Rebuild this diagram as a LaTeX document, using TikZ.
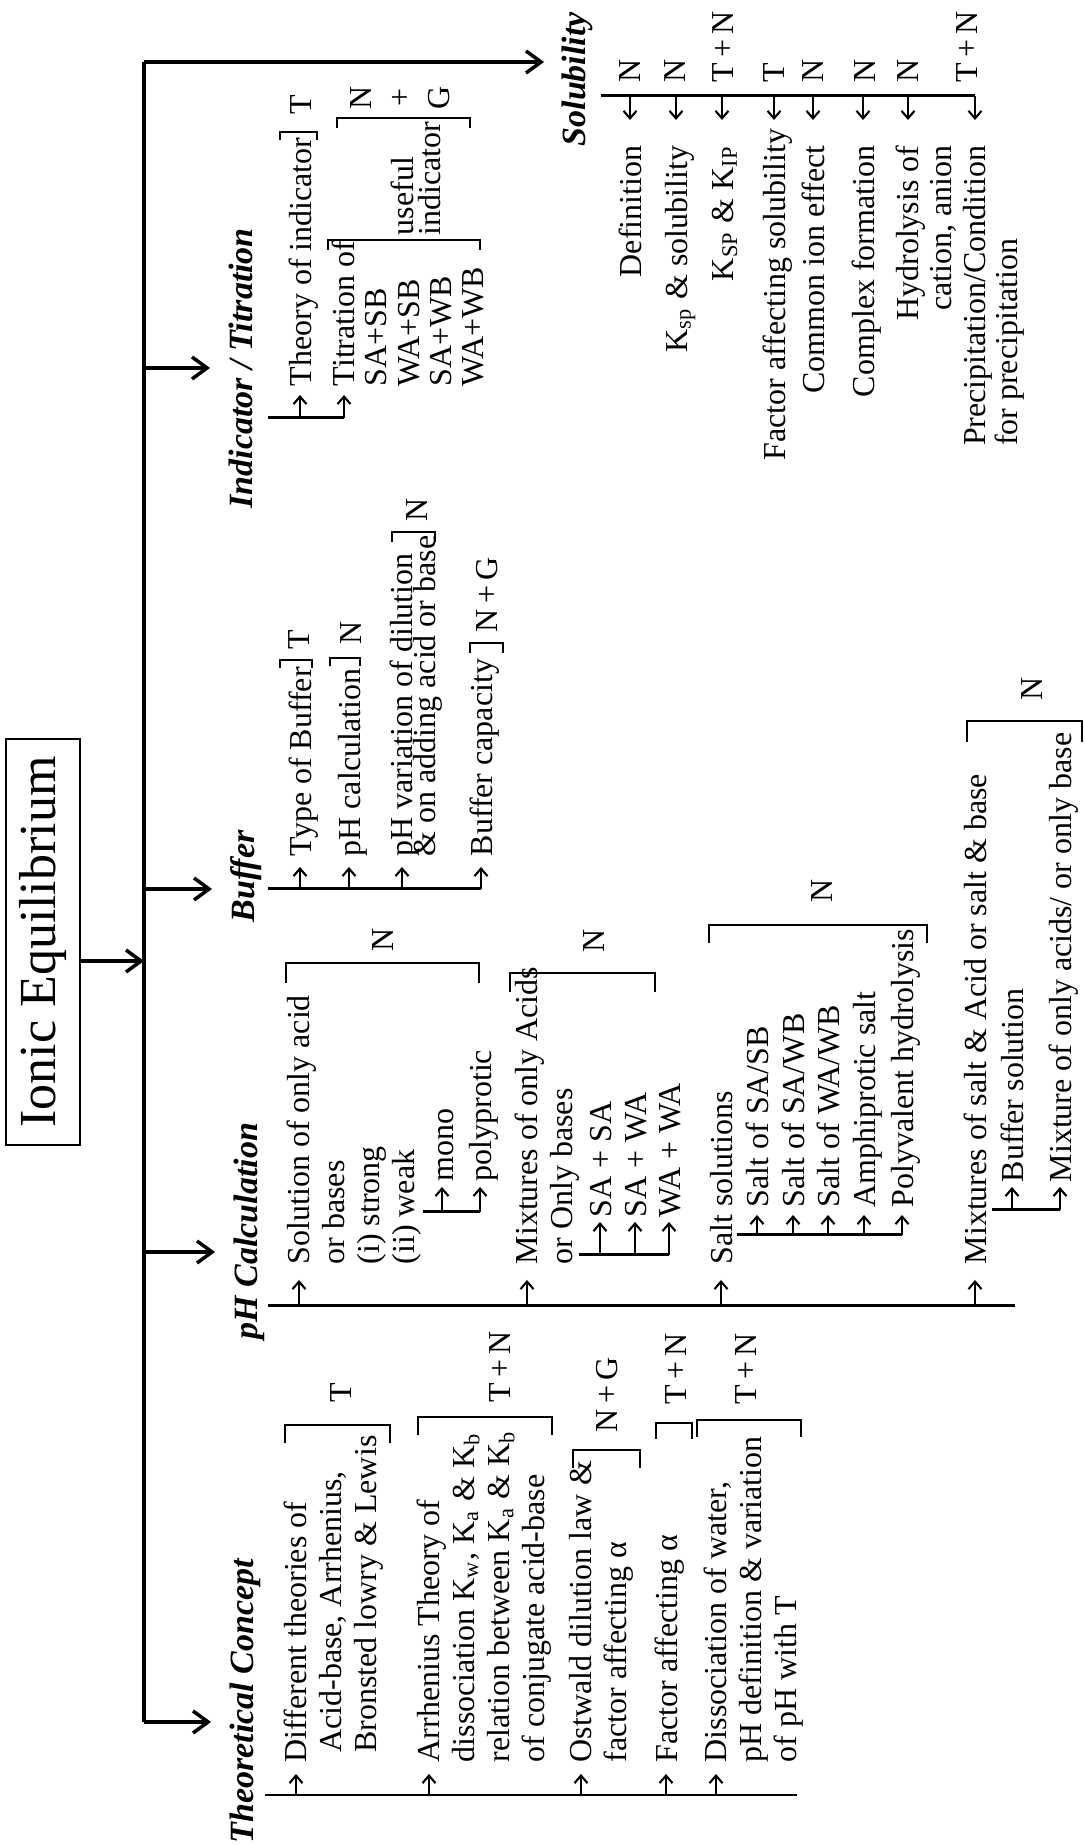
\documentclass[tikz,border=0pt]{standalone}
\usepackage{fontspec}
\setmainfont{Liberation Serif}
\usetikzlibrary{arrows.meta}
\newcommand{\itemfont}{\fontsize{9.1}{9.96}\selectfont}
\newcommand{\tightfont}{\fontsize{9.1}{9.18}\selectfont}
\newcommand{\headfont}{\fontsize{9.67}{11}\selectfont\bfseries\itshape}
\newcommand{\titlefont}{\fontsize{14.8}{16}\selectfont}
% closing bracket ] across the lines of a block: x from #1 to #2, at y = #3, ticks #4 long
\newcommand{\closebr}[4]{%
    \draw[brk] (#1, #3-#4) -- (#1, #3) -- (#2, #3) -- (#2, #3-#4);
}
% small arrow from a spine (#2) to the first line of an entry (#1 = its top corner), tip at #3
\newcommand{\entryarrow}[3]{%
    \draw[iarr] ([xshift=1.25mm]#1 |- #2) -- ([xshift=1.25mm]#1 |- #3);
}

\begin{document}
\begin{tikzpicture}[
    trunk/.style={line width=1pt},
    barr/.style={line width=1pt, -{Straight Barb[length=1.5mm, width=2.2mm]}},
    spine/.style={line width=0.85pt},
    iarr/.style={line width=0.6pt, -{Straight Barb[length=0.75mm, width=1.3mm]}},
    brk/.style={line width=0.8pt},
    head/.style={rotate=90, anchor=north west, inner sep=0pt, font=\headfont},
    entry/.style={rotate=90, anchor=north west, align=left, inner sep=0pt, font=\itemfont,
        execute at begin node={\rule{0pt}{2.3mm}}},
    rentry/.style={entry, anchor=north east, align=right},
    tight/.style={font=\tightfont},
    tag/.style={rotate=90, anchor=west, align=center, inner sep=0pt, font=\itemfont}
]
\useasboundingbox (0, 0) rectangle (10.84, 18.45);

% ---------------------------------------------------------------
%  Page is turned: every text runs upwards, columns go left to right
% ---------------------------------------------------------------

% ---- title and trunk ----
\node[draw, line width=0.8pt, rotate=90, minimum width=4.06cm, minimum height=0.74cm,
    inner sep=0pt, font=\titlefont] (title) at (0.43, 9.03) {Ionic Equilibrium};
\coordinate (tBot) at (1.44, 1.23);
\coordinate (tTop) at (1.44, 17.83);
\coordinate (tPH) at (1.44, 5.93);
\coordinate (tTitle) at (1.44, 8.84);
\coordinate (tBuf) at (1.44, 9.56);
\coordinate (tInd) at (1.44, 14.77);
\draw[trunk] (tBot) -- (tTop);
\draw[barr] (title.south |- tTitle) -- (tTitle);

\node[head] (hTheo) at (2.29, 0.01) {Theoretical Concept};
\node[head] (hPH) at (2.33, 5.05) {pH Calculation};
\node[head] (hBuf) at (2.30, 9.22) {Buffer};
\node[head] (hInd) at (2.28, 13.36) {Indicator / Titration};
\node[head] (hSol) at (5.61, 16.98) {Solubility};
\draw[barr, shorten >=1.8mm] (tBot) -- (tBot -| hTheo.north);
\draw[barr, shorten >=1.8mm] (tPH) -- (tPH -| hPH.north);
\draw[barr, shorten >=1.8mm] (tBuf) -- (tBuf -| hBuf.north);
\draw[barr, shorten >=1.8mm] (tInd) -- (tInd -| hInd.north);
\draw[barr, shorten >=1.7mm] (tTop) -- (tTop -| hSol.north);

% ---- Theoretical Concept ----
\coordinate (thS) at (2.65, 0.50);
\coordinate (thT) at (2.65, 0.71);
\draw[spine] (thS) -- (7.97, 0.50);
\node[entry] (th1) at (2.835, 0.82) {Different theories of\\
    \hspace*{0.3em}Acid-base, Arrhenius,\\\hspace*{0.3em}Bronsted lowry \& Lewis};
\node[entry] (th2) at (4.165, 0.82) {Arrhenius Theory of\\
    dissociation K\textsubscript{w}, K\textsubscript{a} \& K\textsubscript{b}\\
    relation between K\textsubscript{a} \& K\textsubscript{b}\\of conjugate acid-base};
\node[entry] (th3) at (5.685, 0.82) {Ostwald dilution law \&\\factor affecting α};
\node[entry] (th4) at (6.535, 0.82) {Factor affecting α};
\node[entry] (th5) at (7.035, 0.82) {Dissociation of water,\\pH definition \& variation\\of pH with T};
\foreach \n in {th1, th2, th3, th4, th5} {
    \entryarrow{\n.north west}{thS}{thT}
}
\closebr{2.85}{3.90}{4.20}{0.18}
\closebr{4.18}{5.52}{4.28}{0.18}
\closebr{5.73}{6.40}{3.95}{0.18}
\closebr{6.56}{6.92}{4.22}{0.16}
\closebr{6.97}{8.01}{4.25}{0.17}
\node[tag] (thL1) at (3.41, 4.42) {T};
\node[tag] (thL2) at (5.00, 4.42) {T\,+\,N};
\node[tag] (thL3) at (6.07, 4.12) {N\,+\,G};
\node[tag] (thL4) at (6.76, 4.40) {T\,+\,N};
\node[tag] (thL5) at (7.46, 4.40) {T\,+\,N};

% ---- pH Calculation ----
\coordinate (phS) at (2.68, 5.39);
\coordinate (phT) at (2.68, 5.65);
\draw[spine] (phS) -- (10.15, 5.39);
\node[entry] (phA) at (2.865, 5.80) {Solution of only acid\\or bases\\(i) strong\\(ii) weak};
\node[entry] (phB) at (5.145, 5.80) {Mixtures of only Acids\\or Only bases};
\node[entry] (phC) at (7.085, 5.80) {Salt solutions};
\node[entry] (phD) at (9.625, 5.80) {Mixtures of salt \& Acid or salt \& base};
\foreach \n in {phA, phB, phC, phD} {
    \entryarrow{\n.north west}{phS}{phT}
}

% weak acids
\coordinate (phAs) at (4.23, 6.33);
\coordinate (phAt) at (4.23, 6.58);
\node[entry] (mono) at (4.295, 6.63) {mono};
\node[entry] (poly) at (4.675, 6.63) {polyprotic};
\draw[spine] (phAs) -- ([xshift=1.25mm]poly.north west |- phAs);
\entryarrow{mono.north west}{phAs}{phAt}
\entryarrow{poly.north west}{phAs}{phAt}

% mixtures of acids
\coordinate (phBs) at (5.79, 5.90);
\coordinate (phBt) at (5.79, 6.23);
\node[entry] (sasa) at (5.875, 6.27) {SA + SA};
\node[entry] (sawa) at (6.225, 6.27) {SA + WA};
\node[entry] (wawa) at (6.565, 6.27) {WA + WA};
\draw[spine] (phBs) -- ([xshift=1.25mm]wawa.north west |- phBs);
\foreach \n in {sasa, sawa, wawa} {
    \entryarrow{\n.north west}{phBs}{phBt}
}

% salts
\coordinate (phCs) at (7.37, 6.10);
\coordinate (phCt) at (7.37, 6.30);
\node[entry] (salt1) at (7.445, 6.37) {Salt of SA/SB};
\node[entry] (salt2) at (7.805, 6.37) {Salt of SA/WB};
\node[entry] (salt3) at (8.155, 6.37) {Salt of WA/WB};
\node[entry] (salt4) at (8.515, 6.37) {Amphiprotic salt};
\node[entry] (salt5) at (8.895, 6.37) {Polyvalent hydrolysis};
\draw[spine] (phCs) -- ([xshift=1.25mm]salt5.north west |- phCs);
\foreach \n in {salt1, salt2, salt3, salt4, salt5} {
    \entryarrow{\n.north west}{phCs}{phCt}
}

% salt with acid or base
\coordinate (phDs) at (9.92, 6.35);
\coordinate (phDt) at (9.92, 6.58);
\node[entry] (bsol) at (9.995, 6.62) {Buffer solution};
\node[entry] (mixo) at (10.475, 6.62) {Mixture of only acids/ or only base};
\draw[spine] (phDs) -- ([xshift=1.25mm]mixo.north west |- phDs);
\entryarrow{bsol.north west}{phDs}{phDt}
\entryarrow{mixo.north west}{phDs}{phDt}

\closebr{2.86}{4.79}{8.82}{0.20}
\closebr{5.10}{6.55}{8.72}{0.19}
\closebr{7.09}{9.27}{9.20}{0.18}
\closebr{9.67}{10.82}{11.24}{0.21}
\node[tag] (phL1) at (3.83, 8.93) {N};
\node[tag] (phL2) at (5.94, 8.92) {N};
\node[tag] (phL3) at (8.22, 9.42) {N};
\node[tag] (phL4) at (10.32, 11.44) {N};

% ---- Buffer ----
\coordinate (bfS) at (2.675, 9.56);
\coordinate (bfT) at (2.675, 9.78);
\node[entry] (bf1) at (2.875, 9.88) {Type of Buffer};
\node[entry] (bf2) at (3.365, 9.88) {pH calculation};
\node[entry] (bf3) at (3.895, 9.88) {pH variation of dilution\\[-3.4pt]\& on adding acid or base};
\node[entry] (bf4) at (4.685, 9.88) {Buffer capacity};
\draw[spine] (bfS) -- ([xshift=1.25mm]bf4.north west |- bfS);
\foreach \n in {bf1, bf2, bf3, bf4} {
    \entryarrow{\n.north west}{bfS}{bfT}
}
\closebr{2.80}{3.12}{11.85}{0.08}
\closebr{3.30}{3.60}{11.87}{0.08}
\closebr{3.92}{4.35}{13.13}{0.10}
\closebr{4.70}{5.03}{12.02}{0.10}
\node[tag] (bfL1) at (2.99, 11.95) {T};
\node[tag] (bfL2) at (3.51, 12.00) {N};
\node[tag] (bfL3) at (4.17, 13.23) {N};
\node[tag] (bfL4) at (4.87, 12.12) {N\,+\,G};

% ---- Indicator / Titration ----
\coordinate (inS) at (2.68, 14.27);
\coordinate (inT) at (2.68, 14.50);
\node[entry] (in1) at (2.875, 14.58) {Theory of indicator};
\node[entry, tight] (in2) at (3.315, 14.58) {Titration of\\SA+SB\\WA+SB\\SA+WB\\WA+WB};
\draw[spine] (inS) -- ([xshift=1.25mm]in2.north west |- inS);
\entryarrow{in1.north west}{inS}{inT}
\entryarrow{in2.north west}{inS}{inT}
\closebr{2.80}{3.17}{17.13}{0.08}
\node[tag] (inL1) at (3.01, 17.30) {T};
\closebr{3.28}{4.80}{16.05}{0.10}
\node[entry] (useful) at (3.905, 16.09) {useful\\[-2.3pt]indicator};
\closebr{3.37}{4.70}{17.27}{0.10}
\node[tag] (inL2) at (4.00, 17.35) {N\\[1.1pt]+\\[1.1pt]G};

% ---- Solubility ----
\coordinate (soS) at (6.01, 17.49);
\coordinate (soT) at (6.01, 17.25);
\node[rentry] (so1) at (6.175, 17.00) {Definition};
\node[rentry] (so2) at (6.635, 17.00) {K\textsubscript{sp} \& solubility};
\node[rentry] (so3) at (7.095, 17.00) {K\textsubscript{SP} \& K\textsubscript{IP}};
\node[rentry] (so4) at (7.615, 17.17) {Factor affecting solubility};
\node[rentry] (so5) at (8.005, 17.00) {Common ion effect};
\node[rentry] (so6) at (8.505, 17.00) {Complex formation};
\node[rentry, tight] (so7) at (8.955, 17.00) {Hydrolysis of\\cation, anion};
\node[rentry, tight, align=left] (so8) at (9.625, 17.00) {Precipitation/Condition\\for precipitation};
\draw[spine] (soS) -- ([xshift=1.25mm]so8.north east |- soS);
\foreach \n in {so1, so2, so3, so4, so5, so6, so7, so8} {
    \entryarrow{\n.north east}{soS}{soT}
}
\node[tag] (soL1) at (6.30, 17.62) {N};
\node[tag] (soL2) at (6.75, 17.62) {N};
\node[tag] (soL3) at (7.23, 17.62) {T\,+\,N};
\node[tag] (soL4) at (7.74, 17.62) {T};
\node[tag] (soL5) at (8.13, 17.62) {N};
\node[tag] (soL6) at (8.65, 17.62) {N};
\node[tag] (soL7) at (9.08, 17.62) {N};
\node[tag] (soL8) at (9.67, 17.62) {T\,+\,N};

\end{tikzpicture}
\end{document}
